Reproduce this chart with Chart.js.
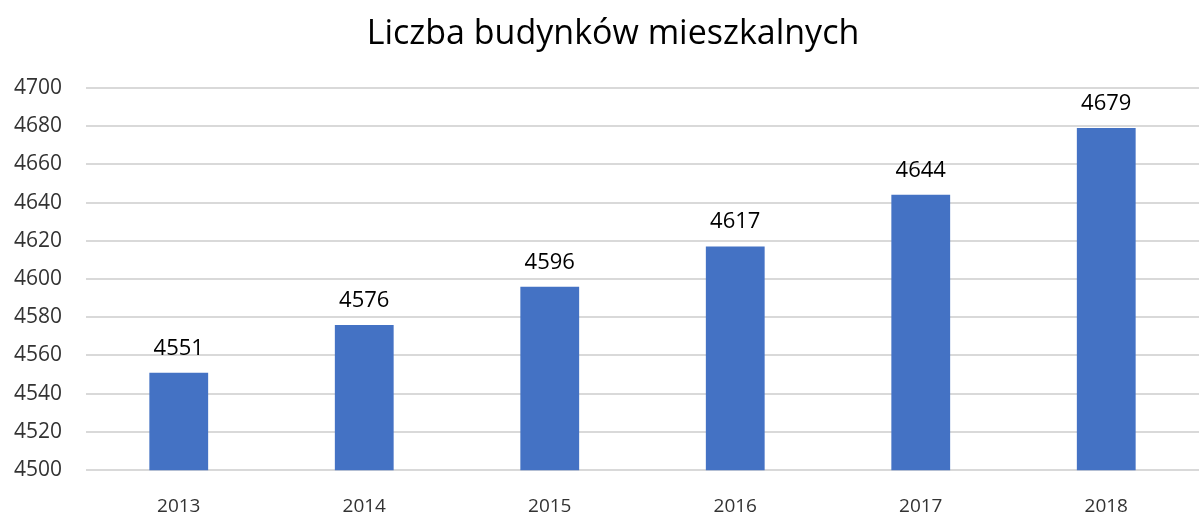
<!DOCTYPE html>
<html><head><meta charset="utf-8">
<script src="https://cdn.jsdelivr.net/npm/chart.js@4/dist/chart.umd.min.js"></script>
<style>html,body{margin:0;padding:0;background:#fff;}#w{width:1199px;height:516px;}</style>
</head><body><div id="w"><canvas id="c"></canvas></div>
<script>
const categories = ["2013","2014","2015","2016","2017","2018"];
const values = [4551,4576,4596,4617,4644,4679];
const titleText = "Liczba budynków mieszkalnych";
const yMin = 4500, yMax = 4700, yStep = 20;
const FONT = '"Open Sans", "Noto Sans", sans-serif';

const labelPlugin = {
  id: 'vlabels',
  afterLayout(chart) {
    if (chart.titleBlock) { chart.titleBlock.left += 12; chart.titleBlock.right += 12; }
  },
  afterDatasetsDraw(chart) {
    const ctx = chart.ctx;
    const meta = chart.getDatasetMeta(0);
    ctx.save();
    ctx.font = '22px ' + FONT;
    ctx.fillStyle = '#000';
    ctx.textAlign = 'center';
    ctx.textBaseline = 'alphabetic';
    meta.data.forEach((bar, i) => {
      ctx.fillText(String(values[i]), bar.x, bar.y - 18);
    });
    ctx.restore();
  }
};

new Chart(document.getElementById('c'), {
  type: 'bar',
  data: { labels: categories, datasets: [{ data: values, backgroundColor: '#4472C4', barPercentage: 0.634, categoryPercentage: 0.5 }] },
  options: {
    responsive: true, maintainAspectRatio: false, animation: false,
    layout: { padding: { left: 0, right: -3, top: 0, bottom: -27 } },
    plugins: {
      legend: { display: false }, tooltip: { enabled: false },
      title: { display: true, text: titleText, color: '#000', font: { family: FONT, size: 34, weight: 'normal' }, padding: { top: 14, bottom: 33 } }
    },
    scales: {
      x: { grid: { display: false, drawTicks: false }, border: { display: false },
           ticks: { color: '#333', padding: 25, font: { family: FONT, size: 19 } } },
      y: { min: yMin, max: yMax,
           afterFit(scale) { scale.width = 86; },
           ticks: { stepSize: yStep, color: '#333', padding: 24, font: { family: FONT, size: 21 },
                    callback: (v) => String(v) },
           grid: { color: '#d9d9d9', lineWidth: 2, drawTicks: false }, border: { display: false } }
    }
  },
  plugins: [labelPlugin]
});
</script></body></html>
